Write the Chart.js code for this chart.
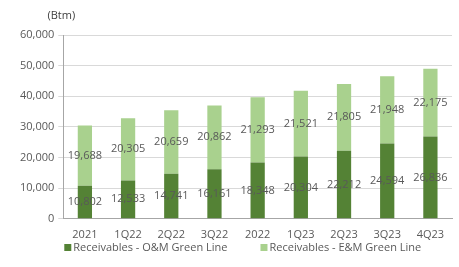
<!DOCTYPE html>
<html>
<head>
<meta charset="utf-8">
<script src="https://cdn.jsdelivr.net/npm/chart.js@4"></script>
<style>
  html, body { margin: 0; padding: 0; background: #fff; }
  #wrap { width: 459px; height: 267px; }
</style>
</head>
<body>
<div id="wrap"><canvas id="mainChart"></canvas></div>
<script>
const categories = ['2021', '1Q22', '2Q22', '3Q22', '2022', '1Q23', '2Q23', '3Q23', '4Q23'];
const omValues = [10802, 12533, 14741, 16161, 18348, 20304, 22212, 24594, 26836];
const emValues = [19688, 20305, 20659, 20862, 21293, 21521, 21805, 21948, 22175];
const yTicks = [0, 10000, 20000, 30000, 40000, 50000, 60000];

const textColor = '#595959';
const fontFamily = '"Open Sans", "Liberation Sans", sans-serif';

// label di tengah tiap batang
const valueLabels = {
    id: 'valueLabels',
    afterDatasetsDraw(chart) {
        const { ctx } = chart;
        ctx.save();
        ctx.font = '11px ' + fontFamily;
        ctx.fillStyle = textColor;
        ctx.textAlign = 'center';
        ctx.textBaseline = 'middle';
        chart.data.datasets.forEach((ds, i) => {
            chart.getDatasetMeta(i).data.forEach((bar, j) => {
                const mid = (bar.y + bar.base) / 2;
                ctx.fillText(ds.data[j].toLocaleString('en-US'), bar.x, mid);
            });
        });
        ctx.restore();
    }
};

// satuan di atas sumbu y + legend di bawah
const extras = {
    id: 'extras',
    afterDraw(chart) {
        const { ctx, chartArea } = chart;
        ctx.save();
        ctx.font = '11px ' + fontFamily;
        ctx.fillStyle = '#404040';
        ctx.textAlign = 'center';
        ctx.textBaseline = 'middle';
        ctx.fillText('(Btm)', chartArea.left - 2, 16);

        ctx.font = '11px ' + fontFamily;
        ctx.textAlign = 'left';
        let x = chartArea.left + 1;
        const y = 248;
        chart.data.datasets.forEach(ds => {
            ctx.fillStyle = ds.backgroundColor;
            ctx.fillRect(x, y - 4, 7, 7);
            ctx.fillStyle = textColor;
            ctx.fillText(ds.label, x + 9, y);
            x += 9 + ctx.measureText(ds.label).width + 33;
        });
        ctx.restore();
    }
};

new Chart(document.getElementById('mainChart'), {
    type: 'bar',
    data: {
        labels: categories,
        datasets: [
            {
                label: 'Receivables - O&M Green Line',
                data: omValues,
                backgroundColor: '#548235',
                barPercentage: 0.33,
                categoryPercentage: 1,
            },
            {
                label: 'Receivables - E&M Green Line',
                data: emValues,
                backgroundColor: '#a9d18e',
                barPercentage: 0.33,
                categoryPercentage: 1,
            }
        ]
    },
    options: {
        responsive: true,
        maintainAspectRatio: false,
        animation: false,
        layout: { padding: { top: 35, right: 7, left: 16, bottom: 25 } },
        plugins: {
            legend: { display: false },
            tooltip: { enabled: false }
        },
        scales: {
            x: {
                stacked: true,
                grid: { display: false },
                border: { color: '#a6a6a6' },
                ticks: { color: textColor, font: { family: fontFamily, size: 11 }, padding: 1 }
            },
            y: {
                stacked: true,
                min: 0,
                max: 60000,
                afterBuildTicks(axis) { axis.ticks = yTicks.map(v => ({ value: v })); },
                grid: { color: '#d9d9d9', tickLength: 5 },
                border: { color: '#a6a6a6' },
                ticks: {
                    color: textColor,
                    font: { family: fontFamily, size: 11 },
                    padding: 4,
                    callback: v => v.toLocaleString('en-US')
                }
            }
        }
    },
    plugins: [valueLabels, extras]
});
</script>
</body>
</html>
